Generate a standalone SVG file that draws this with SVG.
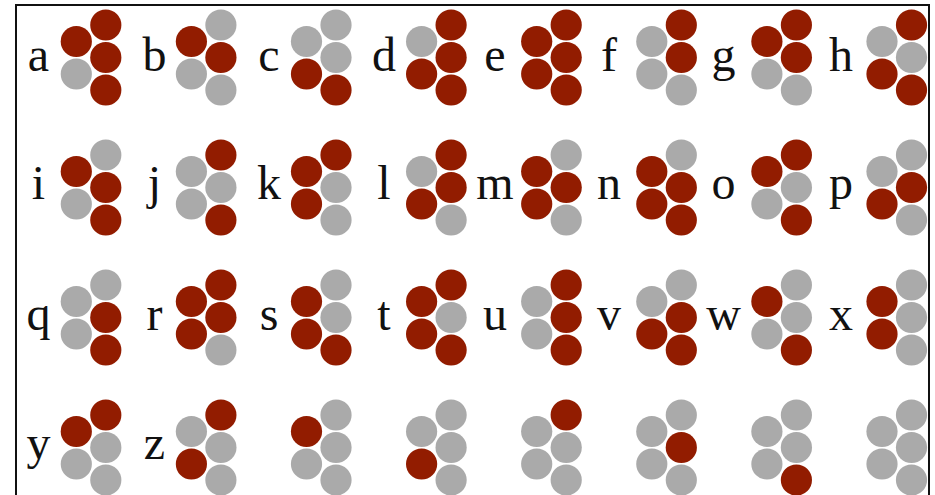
<svg xmlns="http://www.w3.org/2000/svg" width="935" height="495" viewBox="0 0 935 495">
<defs>
<style>
.r{fill:#921c00}
.g{fill:#aaaaaa}
.lt{font-family:"Liberation Serif","Times New Roman",serif;font-size:48px;fill:#111;text-anchor:middle}
</style>
<circle id="d" r="15.6"/>
</defs>
<rect x="16" y="5" width="913" height="510" fill="#fff" stroke="#111" stroke-width="2"/>
<g id="connectors"></g>
<!-- row 1 -->
<g id="cell-a" transform="translate(76.3,25)"><text class="lt" x="-37.8" y="46">a</text><use href="#d" class="r" y="16.5"/><use href="#d" class="g" y="49"/><use href="#d" class="r" x="29.5"/><use href="#d" class="r" x="29.5" y="32.5"/><use href="#d" class="r" x="29.5" y="65"/></g>
<g id="cell-b" transform="translate(191.4,25)"><text class="lt" x="-36.9" y="46">b</text><use href="#d" class="r" y="16.5"/><use href="#d" class="g" y="49"/><use href="#d" class="g" x="29.5"/><use href="#d" class="r" x="29.5" y="32.5"/><use href="#d" class="g" x="29.5" y="65"/></g>
<g id="cell-c" transform="translate(306.5,25)"><text class="lt" x="-37.5" y="46">c</text><use href="#d" class="g" y="16.5"/><use href="#d" class="r" y="49"/><use href="#d" class="g" x="29.5"/><use href="#d" class="g" x="29.5" y="32.5"/><use href="#d" class="r" x="29.5" y="65"/></g>
<g id="cell-d" transform="translate(421.6,25)"><text class="lt" x="-37.6" y="46">d</text><use href="#d" class="g" y="16.5"/><use href="#d" class="r" y="49"/><use href="#d" class="r" x="29.5"/><use href="#d" class="r" x="29.5" y="32.5"/><use href="#d" class="r" x="29.5" y="65"/></g>
<g id="cell-e" transform="translate(536.7,25)"><text class="lt" x="-41.7" y="46">e</text><use href="#d" class="r" y="16.5"/><use href="#d" class="r" y="49"/><use href="#d" class="r" x="29.5"/><use href="#d" class="r" x="29.5" y="32.5"/><use href="#d" class="r" x="29.5" y="65"/></g>
<g id="cell-f" transform="translate(651.8,25)"><text class="lt" x="-42.8" y="46">f</text><use href="#d" class="g" y="16.5"/><use href="#d" class="g" y="49"/><use href="#d" class="r" x="29.5"/><use href="#d" class="r" x="29.5" y="32.5"/><use href="#d" class="g" x="29.5" y="65"/></g>
<g id="cell-g" transform="translate(766.9,25)"><text class="lt" x="-43.4" y="46">g</text><use href="#d" class="r" y="16.5"/><use href="#d" class="g" y="49"/><use href="#d" class="r" x="29.5"/><use href="#d" class="r" x="29.5" y="32.5"/><use href="#d" class="g" x="29.5" y="65"/></g>
<g id="cell-h" transform="translate(882,25)"><text class="lt" x="-41" y="46">h</text><use href="#d" class="g" y="16.5"/><use href="#d" class="r" y="49"/><use href="#d" class="r" x="29.5"/><use href="#d" class="g" x="29.5" y="32.5"/><use href="#d" class="r" x="29.5" y="65"/></g>
<!-- row 2 -->
<g id="cell-i" transform="translate(76.3,155)"><text class="lt" x="-37.8" y="44">i</text><use href="#d" class="r" y="16.5"/><use href="#d" class="g" y="49"/><use href="#d" class="g" x="29.5"/><use href="#d" class="r" x="29.5" y="32.5"/><use href="#d" class="r" x="29.5" y="65"/></g>
<g id="cell-j" transform="translate(191.4,155)"><text class="lt" x="-36.9" y="44">j</text><use href="#d" class="g" y="16.5"/><use href="#d" class="g" y="49"/><use href="#d" class="r" x="29.5"/><use href="#d" class="g" x="29.5" y="32.5"/><use href="#d" class="r" x="29.5" y="65"/></g>
<g id="cell-k" transform="translate(306.5,155)"><text class="lt" x="-37.5" y="44">k</text><use href="#d" class="r" y="16.5"/><use href="#d" class="r" y="49"/><use href="#d" class="r" x="29.5"/><use href="#d" class="g" x="29.5" y="32.5"/><use href="#d" class="g" x="29.5" y="65"/></g>
<g id="cell-l" transform="translate(421.6,155)"><text class="lt" x="-37.6" y="44">l</text><use href="#d" class="g" y="16.5"/><use href="#d" class="r" y="49"/><use href="#d" class="r" x="29.5"/><use href="#d" class="r" x="29.5" y="32.5"/><use href="#d" class="g" x="29.5" y="65"/></g>
<g id="cell-m" transform="translate(536.7,155)"><text class="lt" x="-41.7" y="44">m</text><use href="#d" class="r" y="16.5"/><use href="#d" class="r" y="49"/><use href="#d" class="g" x="29.5"/><use href="#d" class="r" x="29.5" y="32.5"/><use href="#d" class="g" x="29.5" y="65"/></g>
<g id="cell-n" transform="translate(651.8,155)"><text class="lt" x="-42.8" y="44">n</text><use href="#d" class="r" y="16.5"/><use href="#d" class="r" y="49"/><use href="#d" class="g" x="29.5"/><use href="#d" class="r" x="29.5" y="32.5"/><use href="#d" class="r" x="29.5" y="65"/></g>
<g id="cell-o" transform="translate(766.9,155)"><text class="lt" x="-43.4" y="44">o</text><use href="#d" class="r" y="16.5"/><use href="#d" class="g" y="49"/><use href="#d" class="r" x="29.5"/><use href="#d" class="g" x="29.5" y="32.5"/><use href="#d" class="r" x="29.5" y="65"/></g>
<g id="cell-p" transform="translate(882,155)"><text class="lt" x="-41" y="44">p</text><use href="#d" class="g" y="16.5"/><use href="#d" class="r" y="49"/><use href="#d" class="g" x="29.5"/><use href="#d" class="r" x="29.5" y="32.5"/><use href="#d" class="g" x="29.5" y="65"/></g>
<!-- row 3 -->
<g id="cell-q" transform="translate(76.3,285)"><text class="lt" x="-37.8" y="45">q</text><use href="#d" class="g" y="16.5"/><use href="#d" class="g" y="49"/><use href="#d" class="g" x="29.5"/><use href="#d" class="r" x="29.5" y="32.5"/><use href="#d" class="r" x="29.5" y="65"/></g>
<g id="cell-r" transform="translate(191.4,285)"><text class="lt" x="-36.9" y="45">r</text><use href="#d" class="r" y="16.5"/><use href="#d" class="r" y="49"/><use href="#d" class="r" x="29.5"/><use href="#d" class="r" x="29.5" y="32.5"/><use href="#d" class="g" x="29.5" y="65"/></g>
<g id="cell-s" transform="translate(306.5,285)"><text class="lt" x="-37.5" y="45">s</text><use href="#d" class="r" y="16.5"/><use href="#d" class="r" y="49"/><use href="#d" class="g" x="29.5"/><use href="#d" class="g" x="29.5" y="32.5"/><use href="#d" class="r" x="29.5" y="65"/></g>
<g id="cell-t" transform="translate(421.6,285)"><text class="lt" x="-37.6" y="45">t</text><use href="#d" class="r" y="16.5"/><use href="#d" class="r" y="49"/><use href="#d" class="r" x="29.5"/><use href="#d" class="g" x="29.5" y="32.5"/><use href="#d" class="r" x="29.5" y="65"/></g>
<g id="cell-u" transform="translate(536.7,285)"><text class="lt" x="-41.7" y="45">u</text><use href="#d" class="g" y="16.5"/><use href="#d" class="g" y="49"/><use href="#d" class="r" x="29.5"/><use href="#d" class="r" x="29.5" y="32.5"/><use href="#d" class="r" x="29.5" y="65"/></g>
<g id="cell-v" transform="translate(651.8,285)"><text class="lt" x="-42.8" y="45">v</text><use href="#d" class="g" y="16.5"/><use href="#d" class="r" y="49"/><use href="#d" class="g" x="29.5"/><use href="#d" class="r" x="29.5" y="32.5"/><use href="#d" class="r" x="29.5" y="65"/></g>
<g id="cell-w" transform="translate(766.9,285)"><text class="lt" x="-43.4" y="45">w</text><use href="#d" class="r" y="16.5"/><use href="#d" class="g" y="49"/><use href="#d" class="g" x="29.5"/><use href="#d" class="g" x="29.5" y="32.5"/><use href="#d" class="r" x="29.5" y="65"/></g>
<g id="cell-x" transform="translate(882,285)"><text class="lt" x="-41" y="45">x</text><use href="#d" class="r" y="16.5"/><use href="#d" class="r" y="49"/><use href="#d" class="g" x="29.5"/><use href="#d" class="g" x="29.5" y="32.5"/><use href="#d" class="g" x="29.5" y="65"/></g>
<!-- row 4 -->
<g id="cell-y" transform="translate(76.3,415)"><text class="lt" x="-37.8" y="44">y</text><use href="#d" class="r" y="16.5"/><use href="#d" class="g" y="49"/><use href="#d" class="r" x="29.5"/><use href="#d" class="g" x="29.5" y="32.5"/><use href="#d" class="g" x="29.5" y="65"/></g>
<g id="cell-z" transform="translate(191.4,415)"><text class="lt" x="-36.9" y="44">z</text><use href="#d" class="g" y="16.5"/><use href="#d" class="r" y="49"/><use href="#d" class="r" x="29.5"/><use href="#d" class="g" x="29.5" y="32.5"/><use href="#d" class="g" x="29.5" y="65"/></g>
<g id="cell-27" transform="translate(306.5,415)"><use href="#d" class="r" y="16.5"/><use href="#d" class="g" y="49"/><use href="#d" class="g" x="29.5"/><use href="#d" class="g" x="29.5" y="32.5"/><use href="#d" class="g" x="29.5" y="65"/></g>
<g id="cell-28" transform="translate(421.6,415)"><use href="#d" class="g" y="16.5"/><use href="#d" class="r" y="49"/><use href="#d" class="g" x="29.5"/><use href="#d" class="g" x="29.5" y="32.5"/><use href="#d" class="g" x="29.5" y="65"/></g>
<g id="cell-29" transform="translate(536.7,415)"><use href="#d" class="g" y="16.5"/><use href="#d" class="g" y="49"/><use href="#d" class="r" x="29.5"/><use href="#d" class="g" x="29.5" y="32.5"/><use href="#d" class="g" x="29.5" y="65"/></g>
<g id="cell-30" transform="translate(651.8,415)"><use href="#d" class="g" y="16.5"/><use href="#d" class="g" y="49"/><use href="#d" class="g" x="29.5"/><use href="#d" class="r" x="29.5" y="32.5"/><use href="#d" class="g" x="29.5" y="65"/></g>
<g id="cell-31" transform="translate(766.9,415)"><use href="#d" class="g" y="16.5"/><use href="#d" class="g" y="49"/><use href="#d" class="g" x="29.5"/><use href="#d" class="g" x="29.5" y="32.5"/><use href="#d" class="r" x="29.5" y="65"/></g>
<g id="cell-32" transform="translate(882,415)"><use href="#d" class="g" y="16.5"/><use href="#d" class="g" y="49"/><use href="#d" class="g" x="29.5"/><use href="#d" class="g" x="29.5" y="32.5"/><use href="#d" class="g" x="29.5" y="65"/></g>
</svg>
